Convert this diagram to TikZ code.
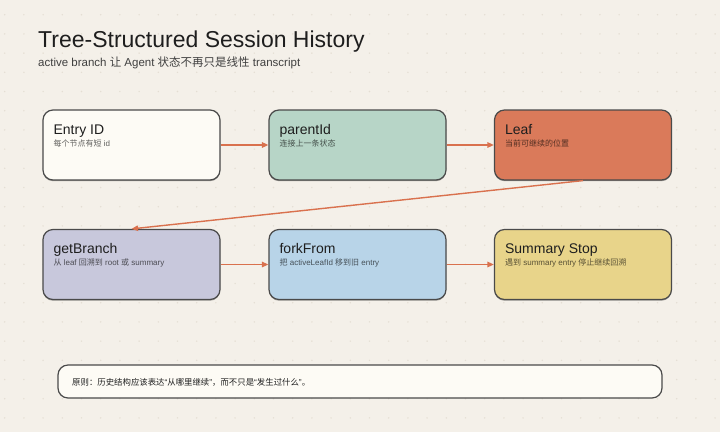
\documentclass[tikz,border=0pt]{standalone}
\usepackage{fontspec}
\setmainfont{Liberation Sans}
\newfontfamily\cjk{Noto Sans CJK SC}
\usetikzlibrary{arrows.meta,shadows}
\definecolor{bgc}{HTML}{F4F0E9}
\definecolor{dotc}{HTML}{E4DED3}
\definecolor{borderc}{HTML}{4A4A4A}
\definecolor{entryc}{HTML}{FDFBF5}
\definecolor{parentc}{HTML}{B7D5C7}
\definecolor{leafc}{HTML}{DA7A5A}
\definecolor{branchc}{HTML}{C8C8DC}
\definecolor{forkc}{HTML}{B8D4E8}
\definecolor{summc}{HTML}{E8D48A}
\definecolor{arrowc}{HTML}{D9714E}
\definecolor{inkc}{HTML}{1E1E1E}
\begin{document}
\begin{tikzpicture}[x=1pt,y=-1pt,
  card/.style={draw=borderc, line width=1.2pt, rounded corners=10pt,
    minimum width=177pt, minimum height=70pt, inner sep=0pt,
    drop shadow={shadow xshift=0pt, shadow yshift=-1.2pt, opacity=0.35, fill=black}},
  ttl/.style={anchor=base west, inner sep=0pt, font=\fontsize{14}{16}\selectfont, text=inkc},
  sub/.style={anchor=base west, inner sep=0pt, font=\fontsize{8}{10}\selectfont, text=black, text opacity=0.62},
  conn/.style={draw=arrowc, line width=1.4pt, -{Triangle[length=6.5pt,width=5.5pt]}}]
\fill[bgc] (0,0) rectangle (720,432);
\useasboundingbox (0,0) rectangle (720,432);
\foreach \i in {0,...,37}{\foreach \j in {0,...,22}{\fill[dotc] ({4.7+19.2*\i},{14.7+19.2*\j}) circle (0.8);}}
% title
\node[anchor=base west, inner sep=0pt, font=\fontsize{23}{26}\selectfont, text=inkc] (title) at (38,47) {Tree-Structured Session History};
\node[anchor=base west, inner sep=0pt, font=\fontsize{11.5}{13}\selectfont, text=black!75] (subtitle) at (38,66) {active branch {\cjk 让} Agent {\cjk 状态不再只是线性} transcript};
% cards
\node[card, fill=entryc] (e) at (131.5,145) {};
\node[card, fill=parentc] (p) at (357.5,145) {};
\node[card, fill=leafc] (l) at (583,145) {};
\node[card, fill=branchc] (g) at (131.5,264.5) {};
\node[card, fill=forkc] (f) at (357.5,264.5) {};
\node[card, fill=summc] (s) at (583,264.5) {};
% texts
\foreach \n/\t/\s in {e/{Entry ID}/{{\cjk 每个节点有短} id},
  p/{parentId}/{{\cjk 连接上一条状态}},
  l/{Leaf}/{{\cjk 当前可继续的位置}},
  g/{getBranch}/{{\cjk 从} leaf {\cjk 回溯到} root {\cjk 或} summary},
  f/{forkFrom}/{{\cjk 把} activeLeafId {\cjk 移到旧} entry},
  s/{Summary Stop}/{{\cjk 遇到} summary entry {\cjk 停止继续回溯}}}{
  \node[ttl] (\n t) at ([xshift=11pt,yshift=-25pt]\n.north west) {\t};
  \node[sub] (\n s) at ([xshift=11pt,yshift=-37pt]\n.north west) {\s};
}
% connectors
\draw[conn] (e.east) -- (p.west);
\draw[conn] (p.east) -- (l.west);
\draw[conn] (l.south) -- (g.north);
\draw[conn] (g.east) -- (f.west);
\draw[conn] (f.east) -- (s.west);
% bottom note
\node[draw=borderc, line width=1.2pt, rounded corners=10pt, fill=entryc,
  minimum width=604pt, minimum height=33pt, inner sep=0pt] (note) at (360,381.5) {};
\node[anchor=base west, inner sep=0pt, font=\fontsize{8.4}{10}\selectfont, text=inkc] (notet) at (72,385.5)
  {{\cjk 原则：历史结构应该表达}“{\cjk 从哪里继续}”{\cjk ，而不只是}“{\cjk 发生过什么}”{\cjk 。}};
\end{tikzpicture}
\end{document}
